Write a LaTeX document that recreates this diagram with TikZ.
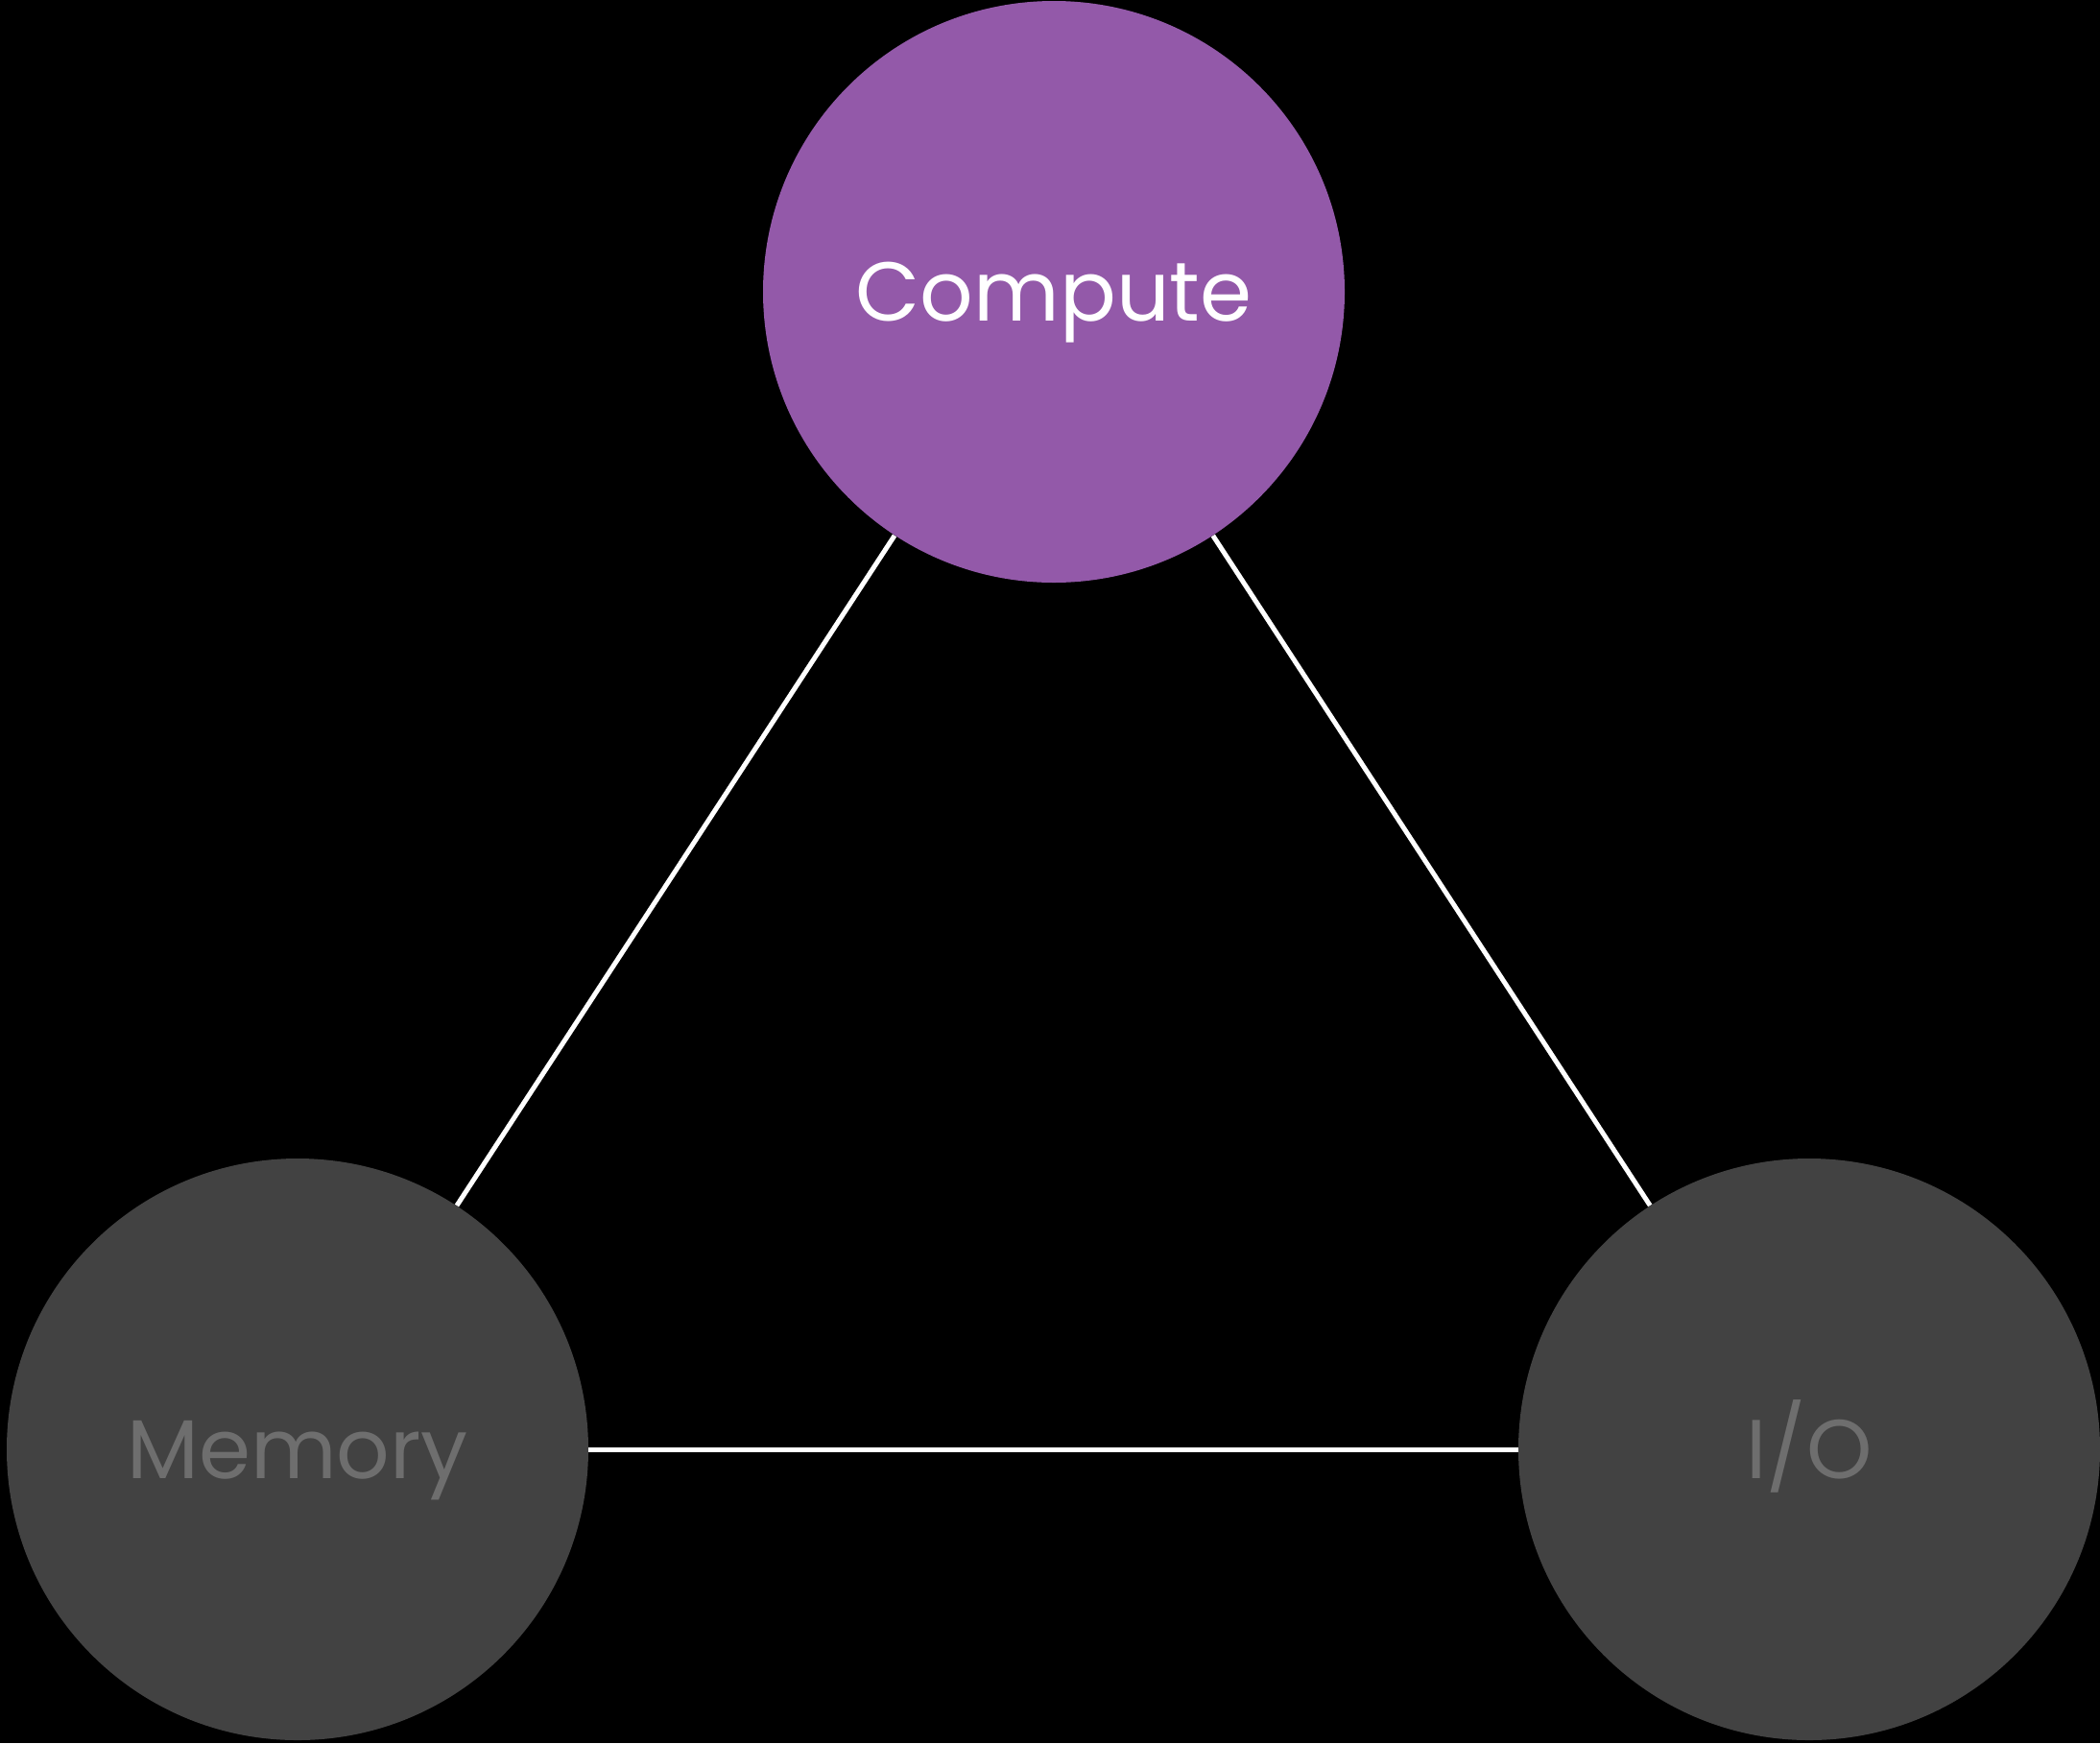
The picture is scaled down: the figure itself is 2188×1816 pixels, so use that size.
\documentclass[tikz,border=0pt]{standalone}
\usepackage{fontspec}
\setmainfont{Poppins}
\definecolor{computefill}{HTML}{9359A9}
\definecolor{idlefill}{HTML}{424242}
\definecolor{idletext}{HTML}{6E6E6E}
\begin{document}
\begin{tikzpicture}[x=0.5pt, y=-0.5pt,
  unit/.style={circle, minimum size=303pt, inner sep=0pt,
    text height=30.5pt, text depth=0pt,
    font=\fontsize{43.5}{50}\selectfont},
  active/.style={unit, fill=computefill, text=white},
  idle/.style={unit, fill=idlefill, text=idletext},
  link/.style={draw=white, line width=2.5pt}]
  \fill[black] (0,0) rectangle (2188,1816);
  \useasboundingbox (0,0) rectangle (2188,1816);
  \node[active] (compute) at (1098,304) {Compute};
  \node[idle] (memory) at (310,1510) {Memory};
  \node[idle] (io) at (1885,1510) {I/O};
  \draw[link] (compute) -- (memory);
  \draw[link] (compute) -- (io);
  \draw[link] (memory) -- (io);
\end{tikzpicture}
\end{document}
